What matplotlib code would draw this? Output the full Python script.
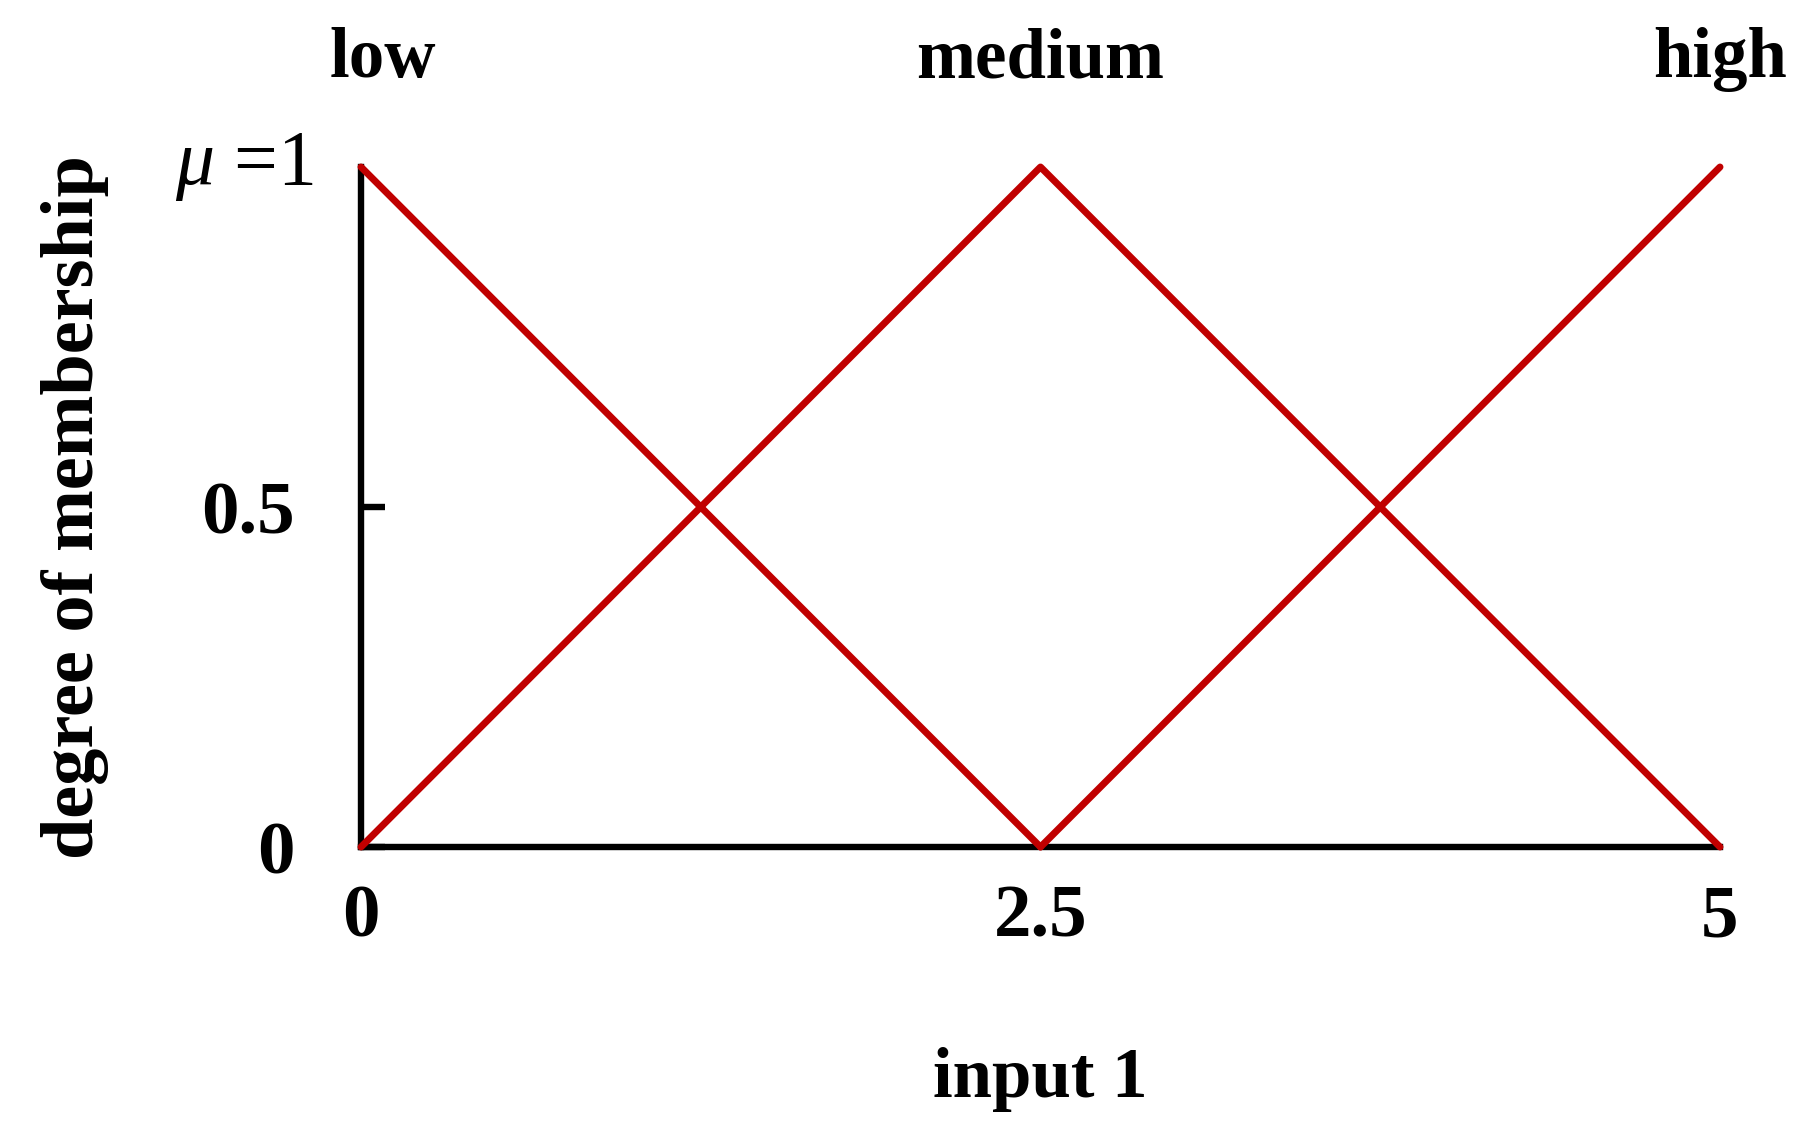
import matplotlib.pyplot as plt

plt.rcParams['font.family'] = ['Liberation Serif', 'DejaVu Serif']
plt.rcParams['mathtext.fontset'] = 'custom'
plt.rcParams['mathtext.it'] = 'Liberation Serif:italic'
plt.rcParams['mathtext.rm'] = 'Liberation Serif'

# membership functions (x breakpoints, degree of membership)
low_x = [0, 2.5]
low_y = [1, 0]
medium_x = [0, 2.5, 5]
medium_y = [0, 1, 0]
high_x = [2.5, 5]
high_y = [0, 1]

set_names = ['low', 'medium', 'high']
set_label_x = [0.08, 2.5, 5]

xticks = [0, 2.5, 5]
xtick_labels = ['0', '2.5', '5']
yticks = [0, 0.5]
ytick_labels = ['0', '0.5']

red = '#C00000'

fig = plt.figure(figsize=(18.08, 11.42), dpi=100)
ax = fig.add_axes([361 / 1808, 1 - 847 / 1142, 1359 / 1808, 680 / 1142])

for xs, ys in [(low_x, low_y), (medium_x, medium_y), (high_x, high_y)]:
    ax.plot(xs, ys, color=red, lw=5, solid_capstyle='round', clip_on=False, zorder=3)

ax.set_xlim(0, 5)
ax.set_ylim(0, 1)

# Axes styling
for s in ['top', 'right']:
    ax.spines[s].set_visible(False)
for s in ['left', 'bottom']:
    ax.spines[s].set_linewidth(4.6)
    ax.spines[s].set_capstyle('projecting')

ax.set_xticks(xticks)
ax.set_xticklabels(xtick_labels, fontsize=54, fontweight='bold')
ax.tick_params(axis='x', length=0, pad=27)

ax.set_yticks(yticks)
ax.set_yticklabels(ytick_labels, fontsize=54, fontweight='bold')
ax.tick_params(axis='y', direction='in', length=17, width=4.6, pad=48)

ax.text(-0.035, 1, r'$\mu$ =1', transform=ax.get_yaxis_transform(),
        ha='right', va='center', fontsize=56)

# fuzzy set names on top
for name, xv in zip(set_names, set_label_x):
    ax.text(xv, 1.132, name, ha='center', va='baseline', fontsize=51, fontweight='bold')

ax.set_xlabel('input 1', fontsize=51, fontweight='bold', labelpad=68)
ax.set_ylabel('degree of membership', fontsize=53.5, fontweight='bold', labelpad=66)

fig.savefig('out.png', dpi=100)
